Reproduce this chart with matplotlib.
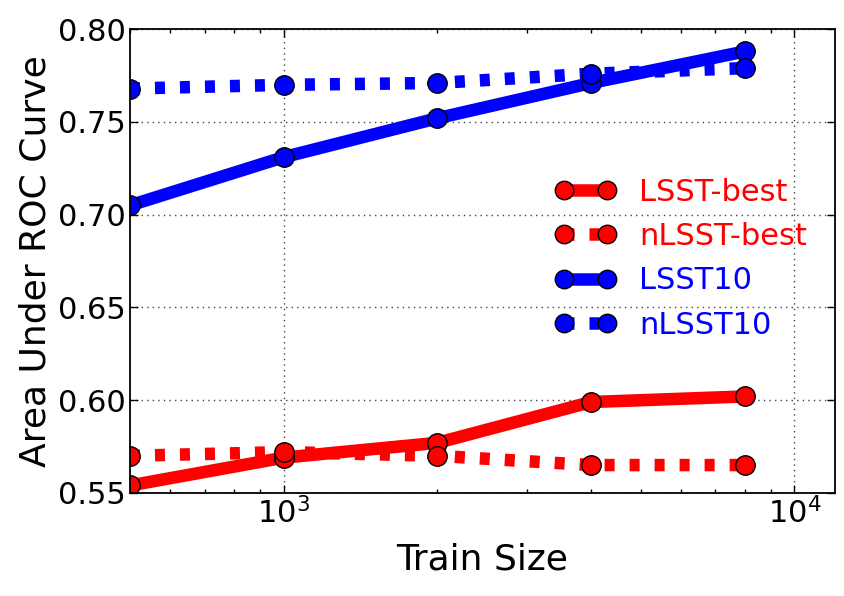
import numpy as np
import matplotlib.pyplot as plt

# Data
train_size = [500, 1000, 2000, 4000, 8000]
lsst_best = [0.554, 0.569, 0.577, 0.599, 0.602]
nlsst_best = [0.570, 0.572, 0.570, 0.565, 0.565]
lsst10 = [0.705, 0.731, 0.752, 0.771, 0.788]
nlsst10 = [0.768, 0.770, 0.771, 0.776, 0.779]

fig = plt.figure(figsize=(8.44, 5.96), dpi=100)
ax = fig.add_axes([0.154, 0.173, 0.835, 0.778])

dash = (0, (0.8, 1.2))
style = dict(lw=9, marker='o', markersize=14, markeredgecolor='black', markeredgewidth=1)
ax.plot(train_size, lsst_best, color='red', ls='-', label='LSST-best', **style)
ax.plot(train_size, nlsst_best, color='red', ls=dash, label='nLSST-best', **style)
ax.plot(train_size, lsst10, color='blue', ls='-', label='LSST10', **style)
ax.plot(train_size, nlsst10, color='blue', ls=dash, label='nLSST10', **style)

ax.set_xscale('log')
ax.set_xlim(500, 12000)
ax.set_ylim(0.55, 0.80)
ax.set_yticks([0.55, 0.60, 0.65, 0.70, 0.75, 0.80])
ax.set_yticklabels(['0.55', '0.60', '0.65', '0.70', '0.75', '0.80'])
ax.grid(True, which='major', color='#444444', ls=(0, (1, 3)), lw=1)
ax.tick_params(which='both', direction='in', top=True, right=True, labelsize=22)
ax.tick_params(which='major', length=6, width=1, pad=3)
ax.tick_params(which='minor', length=3, width=1)
for s in ax.spines.values():
    s.set_linewidth(1.3)

ax.set_xlabel('Train Size', fontsize=26, labelpad=9)
ax.set_ylabel('Area Under ROC Curve', fontsize=26)

leg = ax.legend(loc='center right', bbox_to_anchor=(1.0, 0.505), frameon=False,
                fontsize=22, numpoints=2, handlelength=2.0, handletextpad=0.75,
                labelspacing=0.5, markerscale=0.95)
for text, line in zip(leg.get_texts(), leg.get_lines()):
    text.set_color(line.get_color())

fig.savefig('out.png', dpi=100)
